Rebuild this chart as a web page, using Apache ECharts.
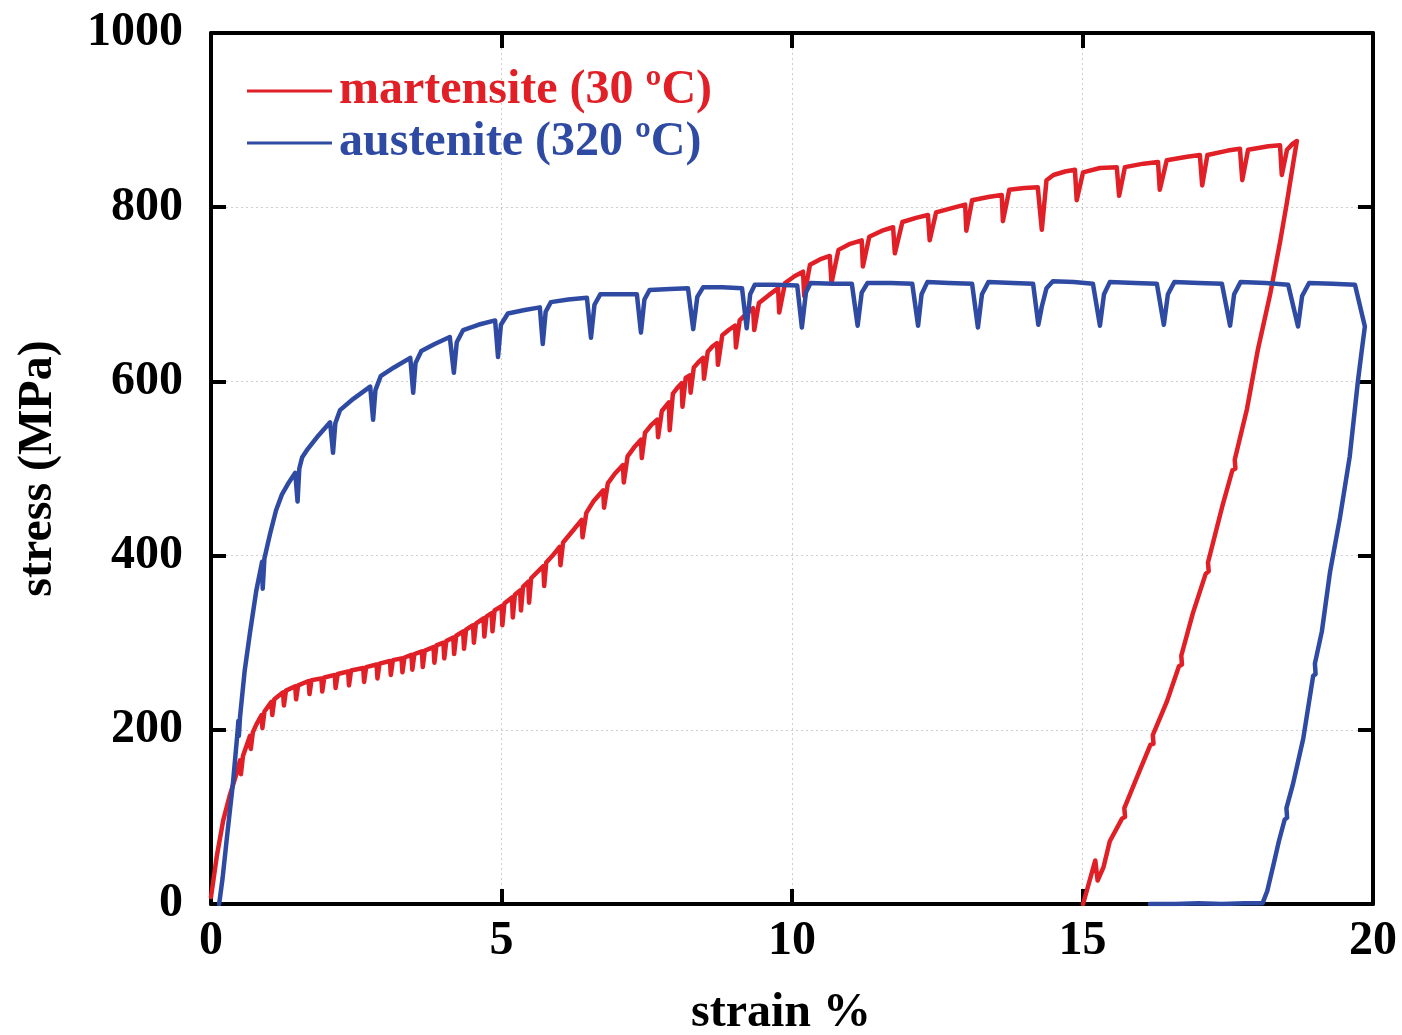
<!DOCTYPE html>
<html>
<head>
<meta charset="utf-8">
<title>Stress–strain curves</title>
<script src="https://cdn.jsdelivr.net/npm/echarts@6/dist/echarts.min.js"></script>
<style>
  html, body { margin: 0; padding: 0; background: #ffffff; }
  #chart { width: 1402px; height: 1035px; }
</style>
</head>
<body>
<div id="chart"></div>
<script>
// Axis ticks
const strainTicks = [0, 5, 10, 15, 20];
const stressTicks = [0, 200, 400, 600, 800, 1000];

// Series names
const seriesNames = ['martensite (30 ºC)', 'austenite (320 ºC)'];

// Martensite (30 ºC): loading with serrations, [strain %, stress MPa]
const martensiteLoading = [
  [0, 8], [0.1, 55], [0.21, 96], [0.32, 124], [0.45, 152],
  [0.50, 165], [0.515, 149], [0.55, 170],
  [0.67, 193], [0.685, 178], [0.72, 197], [0.78, 206],
  [0.87, 217], [0.885, 202], [0.92, 221],
  [1.04, 232], [1.055, 217], [1.09, 235],
  [1.24, 243], [1.255, 228], [1.29, 245],
  [1.45, 250], [1.465, 235], [1.50, 251],
  [1.68, 256], [1.695, 241], [1.73, 257],
  [1.90, 259], [1.915, 244], [1.95, 260],
  [2.13, 263], [2.145, 248], [2.18, 264],
  [2.36, 267], [2.375, 251], [2.41, 268],
  [2.62, 271], [2.635, 255], [2.67, 272],
  [2.85, 275], [2.865, 259], [2.90, 276],
  [3.08, 279], [3.095, 263], [3.13, 280],
  [3.28, 282], [3.295, 266], [3.33, 283],
  [3.45, 286], [3.465, 269], [3.50, 287],
  [3.63, 290], [3.645, 272], [3.68, 291],
  [3.83, 295], [3.845, 277], [3.88, 297],
  [4.00, 300], [4.015, 282], [4.05, 302],
  [4.17, 306], [4.185, 287], [4.22, 308],
  [4.34, 313], [4.355, 293], [4.39, 315],
  [4.51, 320], [4.525, 300], [4.56, 322],
  [4.69, 328], [4.705, 307], [4.74, 330],
  [4.83, 334], [4.845, 313], [4.88, 337],
  [5.00, 342], [5.015, 320], [5.05, 345],
  [5.18, 352], [5.195, 329], [5.23, 355],
  [5.32, 360], [5.335, 337], [5.37, 364],
  [5.46, 370], [5.475, 346], [5.51, 374], [5.60, 380],
  [5.72, 388], [5.735, 365], [5.77, 392], [5.88, 400],
  [6.00, 410], [6.015, 389], [6.06, 415], [6.22, 428],
  [6.38, 441], [6.395, 421], [6.46, 449], [6.58, 462],
  [6.75, 475], [6.765, 455], [6.83, 483], [6.95, 494],
  [7.09, 504], [7.105, 484], [7.17, 514], [7.28, 524],
  [7.40, 533], [7.415, 512], [7.47, 541], [7.58, 550],
  [7.68, 556], [7.695, 536], [7.76, 566],
  [7.88, 576], [7.895, 544], [7.95, 586], [8.02, 592],
  [8.10, 598], [8.115, 571], [8.17, 604],
  [8.24, 607], [8.255, 587], [8.31, 616], [8.39, 622],
  [8.47, 627], [8.485, 603], [8.55, 634], [8.63, 640],
  [8.71, 644], [8.725, 619], [8.80, 653], [8.91, 659],
  [9.02, 664], [9.035, 639], [9.10, 670], [9.22, 678],
  [9.33, 684], [9.35, 659], [9.43, 690], [9.60, 699],
  [9.76, 707], [9.78, 679], [9.88, 713], [10.05, 721],
  [10.19, 726], [10.21, 698], [10.31, 734], [10.48, 740],
  [10.65, 744], [10.68, 713], [10.80, 751], [11.00, 758],
  [11.20, 762], [11.22, 732], [11.33, 766], [11.55, 773],
  [11.74, 777], [11.77, 747], [11.90, 783], [12.15, 788],
  [12.34, 791], [12.37, 762], [12.48, 794], [12.75, 799],
  [12.98, 803], [13.00, 773], [13.10, 808], [13.40, 812],
  [13.61, 814], [13.63, 784], [13.74, 820], [14.00, 822],
  [14.23, 823], [14.30, 774], [14.38, 831], [14.50, 837], [14.70, 841],
  [14.87, 843], [14.90, 808], [15.01, 840], [15.30, 845],
  [15.59, 846], [15.63, 813], [15.73, 846], [16.05, 850],
  [16.30, 852], [16.33, 820], [16.45, 854], [16.80, 858],
  [17.02, 860], [17.06, 825], [17.15, 860], [17.50, 865],
  [17.71, 867], [17.75, 831], [17.85, 866], [18.20, 870],
  [18.40, 871], [18.43, 837], [18.52, 866], [18.62, 873], [18.69, 876]
];

// Martensite (30 ºC): unloading
const martensiteUnloading = [
  [18.64, 856], [18.52, 806], [18.40, 760], [18.23, 700], [18.02, 637], [17.83, 568],
  [17.62, 510], [17.632, 500], [17.58, 498], [17.40, 455],
  [17.16, 392], [17.172, 382], [17.12, 379], [16.90, 334],
  [16.70, 285], [16.712, 275], [16.66, 273], [16.45, 232],
  [16.21, 194], [16.222, 184], [16.17, 183], [15.94, 146],
  [15.72, 110], [15.732, 100], [15.68, 98], [15.47, 72],
  [15.36, 42], [15.26, 27], [15.22, 50], [15.01, 0]
];

// Austenite (320 ºC): loading with serrations
const austeniteLoading = [
  [0.14, 0], [0.20, 30], [0.28, 80], [0.38, 140], [0.46, 200],
  [0.47, 210], [0.48, 193], [0.50, 215], [0.58, 268], [0.67, 311], [0.78, 360],
  [0.88, 393], [0.89, 362], [0.92, 397], [1.02, 426], [1.12, 452], [1.22, 470], [1.34, 484],
  [1.45, 495], [1.49, 462], [1.52, 500], [1.57, 513], [1.65, 521], [1.85, 538],
  [2.05, 553], [2.10, 518], [2.14, 552], [2.22, 567], [2.45, 580],
  [2.74, 594], [2.79, 556], [2.83, 590], [2.92, 606], [3.15, 616],
  [3.43, 627], [3.48, 587], [3.52, 621], [3.62, 635], [3.85, 643],
  [4.11, 651], [4.18, 610], [4.23, 645], [4.34, 659], [4.60, 665],
  [4.89, 670], [4.94, 628], [4.99, 665], [5.11, 678], [5.40, 682],
  [5.66, 685], [5.71, 643], [5.76, 680], [5.85, 691], [6.15, 694],
  [6.47, 696], [6.54, 650], [6.60, 688], [6.70, 700], [7.00, 700],
  [7.33, 700], [7.40, 656], [7.46, 694], [7.55, 705], [7.90, 706],
  [8.21, 707], [8.30, 660], [8.37, 697], [8.47, 708], [8.80, 708],
  [9.14, 707], [9.22, 661], [9.28, 700], [9.36, 711], [9.70, 711],
  [10.09, 710], [10.17, 662], [10.24, 702], [10.32, 713], [10.70, 712],
  [11.03, 712], [11.13, 664], [11.20, 702], [11.30, 713], [11.70, 713],
  [12.07, 712], [12.17, 664], [12.23, 700], [12.33, 714], [12.70, 713],
  [13.10, 712], [13.20, 662], [13.27, 700], [13.38, 714], [13.80, 713],
  [14.15, 712], [14.24, 665], [14.30, 686], [14.38, 707], [14.49, 715], [14.85, 714],
  [15.18, 712], [15.30, 664], [15.37, 700], [15.47, 714], [15.90, 713],
  [16.28, 712], [16.40, 665], [16.47, 700], [16.58, 714], [17.00, 713],
  [17.40, 712], [17.54, 664], [17.61, 700], [17.72, 714], [18.15, 713],
  [18.54, 711], [18.71, 663], [18.78, 698], [18.90, 713], [19.30, 712],
  [19.69, 711], [19.86, 663]
];

// Austenite (320 ºC): unloading
const austeniteUnloading = [
  [19.80, 632], [19.74, 600], [19.60, 514], [19.43, 443], [19.26, 381], [19.12, 313],
  [19.00, 276], [19.012, 264], [18.97, 262], [18.80, 190], [18.62, 137],
  [18.51, 110], [18.522, 99], [18.48, 97], [18.38, 72], [18.29, 46], [18.18, 15],
  [18.10, 1], [17.80, 1], [17.40, 0], [17.00, 1], [16.60, 0], [16.16, 0]
];

const RED = '#e01f26';
const BLUE = '#2f4aa2';
const FONT = '"Liberation Serif", "Times New Roman", serif';

const chart = echarts.init(document.getElementById('chart'), null, { renderer: 'canvas' });

const frameAxisCommon = {
  axisLine: { show: true, onZero: false, lineStyle: { color: '#000', width: 4 } },
  axisTick: { show: true, inside: true, length: 15, lineStyle: { color: '#000', width: 4 } }
};

const xMin = strainTicks[0], xMax = strainTicks[strainTicks.length - 1];
const yMin = stressTicks[0], yMax = stressTicks[stressTicks.length - 1];
const plainNumber = (v) => String(v);

chart.setOption({
  animation: false,
  backgroundColor: '#ffffff',
  grid: { left: 211, right: 29, top: 33, bottom: 131, containLabel: false, outerBoundsMode: 'none' },
  legend: {
    orient: 'vertical',
    left: 242,
    top: 62,
    icon: 'rect',
    itemWidth: 85,
    itemHeight: 3,
    itemGap: 4,
    data: [
      { name: seriesNames[0], textStyle: { color: RED } },
      { name: seriesNames[1], textStyle: { color: BLUE } }
    ],
    textStyle: { fontFamily: FONT, fontWeight: 'bold', fontSize: 48, padding: [0, 0, 0, 2] }
  },
  xAxis: [
    Object.assign({
      type: 'value', position: 'bottom',
      min: xMin, max: xMax, interval: strainTicks[1] - strainTicks[0],
      name: 'strain %', nameLocation: 'middle', nameGap: 86,
      nameTextStyle: { fontFamily: FONT, fontWeight: 'bold', fontSize: 48, color: '#000', padding: [0, 22, 0, 0] },
      axisLabel: { fontFamily: FONT, fontWeight: 'bold', fontSize: 48, color: '#000', margin: 14, formatter: plainNumber },
      splitLine: { show: true, lineStyle: { color: '#cfcfcf', width: 1, type: [2, 3] } }
    }, frameAxisCommon),
    Object.assign({
      type: 'value', position: 'top',
      min: xMin, max: xMax, interval: strainTicks[1] - strainTicks[0],
      axisLabel: { show: false }, splitLine: { show: false }
    }, frameAxisCommon)
  ],
  yAxis: [
    Object.assign({
      type: 'value', position: 'left',
      min: yMin, max: yMax, interval: stressTicks[1] - stressTicks[0],
      name: 'stress (MPa)', nameLocation: 'middle', nameGap: 148, nameRotate: 90,
      nameTextStyle: { fontFamily: FONT, fontWeight: 'bold', fontSize: 48, color: '#000' },
      axisLabel: { fontFamily: FONT, fontWeight: 'bold', fontSize: 48, color: '#000', margin: 28, formatter: plainNumber },
      splitLine: { show: true, lineStyle: { color: '#cfcfcf', width: 1, type: [2, 3] } }
    }, frameAxisCommon),
    Object.assign({
      type: 'value', position: 'right',
      min: yMin, max: yMax, interval: stressTicks[1] - stressTicks[0],
      axisLabel: { show: false }, splitLine: { show: false }
    }, frameAxisCommon)
  ],
  series: [
    {
      name: seriesNames[0], type: 'line', xAxisIndex: 0, yAxisIndex: 0,
      data: martensiteLoading.concat(martensiteUnloading),
      symbol: 'none', showSymbol: false, smooth: false,
      lineStyle: { color: RED, width: 4.5, join: 'round', cap: 'round' }, itemStyle: { color: RED }
    },
    {
      name: seriesNames[1], type: 'line', xAxisIndex: 0, yAxisIndex: 0,
      data: austeniteLoading.concat(austeniteUnloading),
      symbol: 'none', showSymbol: false, smooth: false,
      lineStyle: { color: BLUE, width: 4.5, join: 'round', cap: 'round' }, itemStyle: { color: BLUE }
    }
  ]
});
</script>
</body>
</html>
